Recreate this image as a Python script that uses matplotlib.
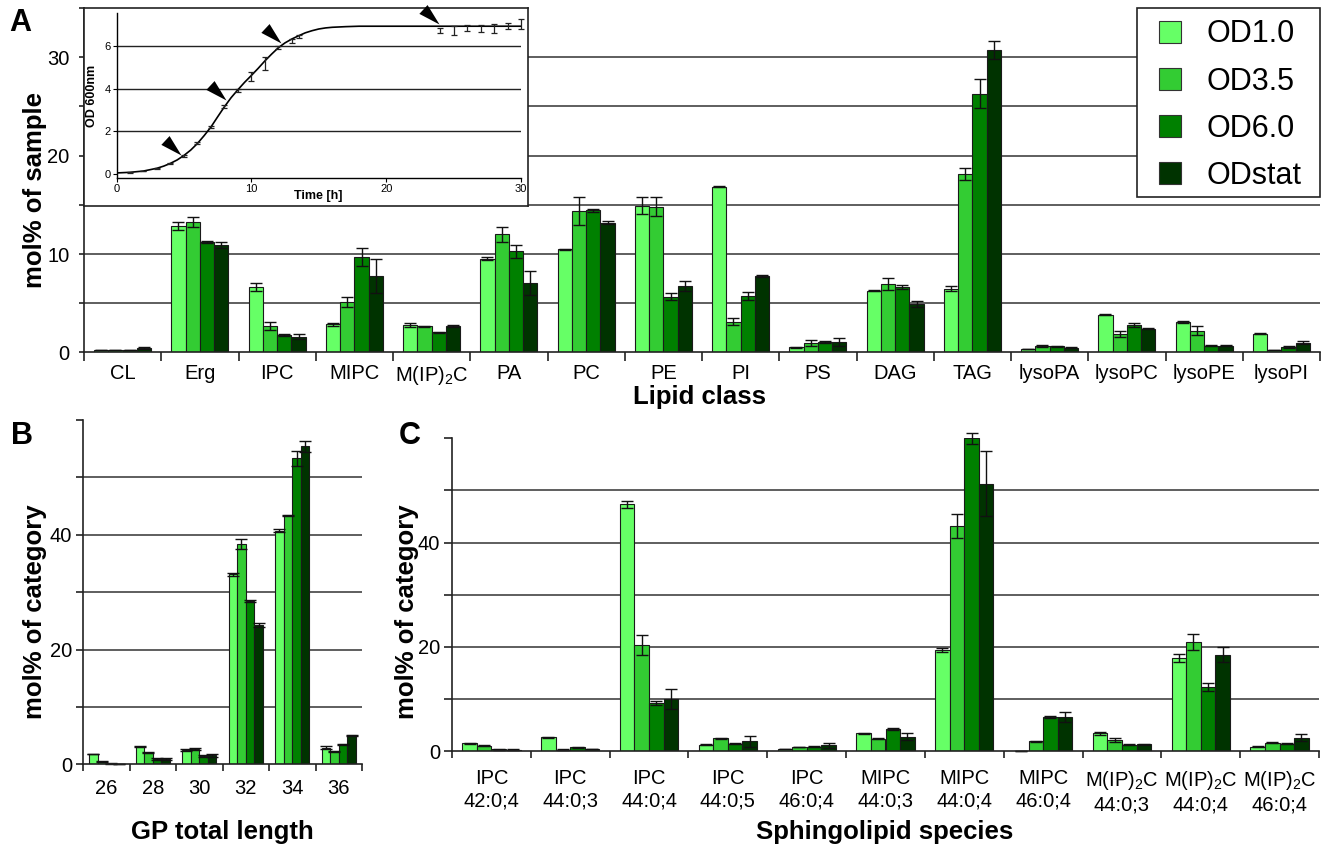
import numpy as np
import matplotlib
matplotlib.use("Agg")
import matplotlib.pyplot as plt
from matplotlib.patches import Patch, Rectangle
from matplotlib.path import Path

plt.rcParams['font.family'] = ['Liberation Sans', 'DejaVu Sans']
plt.rcParams['mathtext.default'] = 'regular'

# ---------------- data ----------------
series_names = ['OD1.0', 'OD3.5', 'OD6.0', 'ODstat']
series_colors = ['#66FF66', '#33CC33', '#008000', '#003300']

lipid_classes = ['CL', 'Erg', 'IPC', 'MIPC', 'M(IP)$_2$C', 'PA', 'PC', 'PE', 'PI',
                 'PS', 'DAG', 'TAG', 'lysoPA', 'lysoPC', 'lysoPE', 'lysoPI']
a_od10 = [0.27, 12.86, 6.67, 2.89, 2.76, 9.52, 10.48, 14.9, 16.84, 0.51, 6.29, 6.46, 0.34, 3.84, 3.1, 1.9]
a_od35 = [0.24, 13.3, 2.69, 5.17, 2.65, 12.0, 14.39, 14.83, 3.13, 0.95, 7.0, 18.1, 0.65, 1.84, 2.21, 0.24]
a_od60 = [0.27, 11.2, 1.73, 9.73, 2.04, 10.27, 14.46, 5.65, 5.75, 1.09, 6.7, 26.3, 0.61, 2.79, 0.68, 0.54]
a_odst = [0.5, 10.95, 1.6, 7.76, 2.72, 7.07, 13.16, 6.77, 7.82, 1.09, 4.9, 30.75, 0.48, 2.41, 0.68, 0.99]
a_err10 = [0.03, 0.4, 0.4, 0.15, 0.2, 0.15, 0.05, 0.85, 0.05, 0.05, 0.05, 0.25, 0.03, 0.05, 0.15, 0.07]
a_err35 = [0.03, 0.5, 0.4, 0.5, 0.05, 0.75, 1.45, 0.95, 0.35, 0.3, 0.6, 0.6, 0.1, 0.3, 0.45, 0.03]
a_err60 = [0.03, 0.1, 0.1, 0.9, 0.05, 0.7, 0.15, 0.35, 0.4, 0.1, 0.2, 1.5, 0.08, 0.25, 0.05, 0.1]
a_errst = [0.1, 0.3, 0.25, 1.7, 0.1, 1.2, 0.15, 0.5, 0.1, 0.4, 0.3, 0.9, 0.05, 0.03, 0.05, 0.15]

gp_lengths = ['26', '28', '30', '32', '34', '36']
b_od10 = [1.8, 3.08, 2.5, 33.1, 40.7, 2.9]
b_od35 = [0.47, 2.03, 2.67, 38.4, 43.4, 2.3]
b_od60 = [0.12, 0.93, 1.45, 28.5, 53.3, 3.5]
b_odst = [0.05, 0.93, 1.57, 24.3, 55.4, 5.06]
b_err10 = [0.05, 0.1, 0.1, 0.3, 0.3, 0.3]
b_err35 = [0.1, 0.1, 0.1, 0.9, 0.1, 0.1]
b_err60 = [0.05, 0.1, 0.1, 0.2, 1.3, 0.1]
b_errst = [0.02, 0.1, 0.3, 0.4, 0.9, 0.1]

sphingo_species = ['IPC\n42:0;4', 'IPC\n44:0;3', 'IPC\n44:0;4', 'IPC\n44:0;5', 'IPC\n46:0;4',
                   'MIPC\n44:0;3', 'MIPC\n44:0;4', 'MIPC\n46:0;4',
                   'M(IP)$_2$C\n44:0;3', 'M(IP)$_2$C\n44:0;4', 'M(IP)$_2$C\n46:0;4']
c_od10 = [1.48, 2.63, 47.3, 1.22, 0.38, 3.4, 19.4, 0.06, 3.4, 17.84, 0.83]
c_od35 = [1.03, 0.26, 20.35, 2.44, 0.77, 2.31, 43.1, 1.86, 2.05, 20.9, 1.54]
c_od60 = [0.32, 0.7, 9.18, 1.41, 0.83, 4.3, 60.0, 6.55, 1.16, 12.3, 1.35]
c_odst = [0.26, 0.39, 9.95, 1.86, 1.09, 2.76, 51.3, 6.48, 1.28, 18.5, 2.57]
c_err10 = [0.15, 0.1, 0.7, 0.05, 0.03, 0.1, 0.4, 0.02, 0.25, 0.75, 0.1]
c_err35 = [0.1, 0.05, 1.9, 0.1, 0.05, 0.1, 2.3, 0.1, 0.35, 1.5, 0.1]
c_err60 = [0.05, 0.1, 0.35, 0.1, 0.05, 0.2, 1.0, 0.2, 0.1, 0.7, 0.1]
c_errst = [0.03, 0.05, 1.9, 1.1, 0.5, 0.7, 6.2, 1.0, 0.05, 1.5, 0.7]

# growth curve inset
growth_t = [1, 2, 3, 4, 5, 6, 7, 8, 9, 10, 11, 12, 13, 13.5, 24, 25, 26, 27, 28, 29, 30]
growth_od = [0.08, 0.14, 0.27, 0.50, 0.86, 1.44, 2.21, 3.17, 3.92, 4.58, 5.17, 5.94, 6.24, 6.46,
             6.72, 6.73, 6.83, 6.83, 6.83, 6.95, 7.04]
growth_err = [0.02, 0.02, 0.02, 0.03, 0.05, 0.05, 0.05, 0.08, 0.08, 0.2, 0.3, 0.08, 0.1, 0.06,
              0.13, 0.2, 0.14, 0.16, 0.21, 0.13, 0.23]
fit_t = [0, 1, 2, 3, 3.5, 4, 4.5, 5, 5.5, 6, 6.5, 7, 7.5, 8, 8.5, 9, 9.5, 10, 10.5, 11, 11.5,
         12, 12.5, 13, 13.5, 14, 14.5, 15, 15.5, 16, 17, 18, 20, 25, 30]
fit_od = [0.05, 0.08, 0.14, 0.27, 0.37, 0.5, 0.66, 0.87, 1.12, 1.43, 1.8, 2.2, 2.68, 3.15, 3.58,
          3.95, 4.3, 4.62, 4.95, 5.3, 5.62, 5.92, 6.15, 6.33, 6.48, 6.62, 6.72, 6.8, 6.85, 6.88,
          6.91, 6.93, 6.93, 6.93, 6.93]
arrow_t = [4.75, 8.15, 12.2, 23.9]
arrow_od = [0.9, 3.45, 6.15, 7.05]

# ---------------- figure ----------------
W, H = 1322, 847
fig = plt.figure(figsize=(W / 100, H / 100), dpi=100)


def px_axes(l, t, r, b, **kw):
    return fig.add_axes([l / W, 1 - b / H, (r - l) / W, (b - t) / H], **kw)


def grouped(ax, cats, vals, errs, ymax, grid_step, label_step, ytick_len, ypad,
            xtick_len, xpad, fs=14.5):
    n = len(cats)
    x = np.arange(n)
    width = 0.185
    offs = (np.arange(4) - 1.5) * width
    for v, e, c, o in zip(vals, errs, series_colors, offs):
        ax.bar(x + o, v, width, color=c, edgecolor='#1a1a1a', linewidth=0.8, zorder=3)
        ax.errorbar(x + o, v, yerr=e, fmt='none', ecolor='#111111', elinewidth=1.0,
                    capsize=4, capthick=1.0, zorder=4, clip_on=False)
    for g in np.arange(grid_step, ymax - 1e-6, grid_step):
        ax.axhline(g, color='#333333', lw=1.1, zorder=1)
    ax.set_xlim(-0.5, n - 0.5)
    ax.set_ylim(0, ymax)
    for s in ['top', 'right']:
        ax.spines[s].set_visible(False)
    for s in ['left', 'bottom']:
        ax.spines[s].set_linewidth(1.2)
        ax.spines[s].set_color('#222222')
        ax.spines[s].set_zorder(5)
    ax.set_xticks(np.arange(n + 1) - 0.5)
    ax.set_xticklabels([])
    ax.set_xticks(x, minor=True)
    ax.set_xticklabels(cats, minor=True, fontsize=fs)
    ax.tick_params(axis='x', which='major', length=xtick_len, width=1.2, color='#222222', direction='out')
    ax.tick_params(axis='x', which='minor', length=0, pad=xpad)
    yt = np.arange(0, ymax + 1e-6, grid_step)
    ax.set_yticks(yt)
    labels = []
    for v in yt:
        show = abs(v / label_step - round(v / label_step)) < 1e-6 and v < ymax - 1e-6
        labels.append(('%d' % v) if show else '')
    ax.set_yticklabels(labels, fontsize=fs)
    ax.tick_params(axis='y', length=ytick_len, width=1.2, color='#222222', direction='out', pad=ypad)


# Panel A
axA = px_axes(84, 8, 1320, 352.5)
grouped(axA, lipid_classes, [a_od10, a_od35, a_od60, a_odst],
        [a_err10, a_err35, a_err60, a_errst], 35, 5, 10, 3.6, 7, 6.5, 8.5)

# Panel B
axB = px_axes(83, 420, 362, 764.3)
grouped(axB, gp_lengths, [b_od10, b_od35, b_od60, b_odst],
        [b_err10, b_err35, b_err60, b_errst], 60, 10, 20, 5, 3, 5, 10.5)

# Panel C
axC = px_axes(452, 438.3, 1319, 751)
grouped(axC, sphingo_species, [c_od10, c_od35, c_od60, c_odst],
        [c_err10, c_err35, c_err60, c_errst], 60, 10, 20, 5.5, 3, 5, 13)

# Legend (frame drawn separately)
frame = Rectangle((1137 / W, 1 - 197 / H), (1320 - 1137) / W, (197 - 8) / H,
                  transform=fig.transFigure, facecolor='white', edgecolor='#222222',
                  linewidth=1.2, zorder=4)
fig.add_artist(frame)
handles = [Patch(facecolor=c, edgecolor='#333333', linewidth=0.8) for c in series_colors]
leg = fig.legend(handles, series_names, loc='upper left',
                 bbox_to_anchor=(1159 / W, 1 - 19.5 / H), bbox_transform=fig.transFigure,
                 borderaxespad=0, borderpad=0, frameon=False, fontsize=22,
                 handlelength=0.72, handleheight=0.75, handletextpad=0.85,
                 labelspacing=0.56)
leg.set_zorder(5)

# Inset frame
axF = px_axes(84, 8, 528, 206, zorder=2)
axF.set_xticks([])
axF.set_yticks([])
axF.set_facecolor('white')
for s in axF.spines.values():
    s.set_linewidth(1.2)
    s.set_color('#222222')

axI = px_axes(116.5, 13, 521, 178.5, zorder=3)
axI.set_facecolor('none')
axI.set_xlim(0, 30)
axI.set_ylim(-0.21, 7.55)
axI.hlines([2, 4, 6], 0, 30, color='#222222', lw=1.0, zorder=1)
axI.plot(fit_t, fit_od, color='black', lw=1.2, zorder=3)
axI.errorbar(growth_t, growth_od, yerr=growth_err, fmt='none', ecolor='#222222',
             elinewidth=0.9, capsize=2, capthick=0.9, zorder=4, clip_on=False)
wedge = Path([(0, 0), (-11.9, 19.4), (-20.1, 10.6), (0, 0)],
             [Path.MOVETO, Path.LINETO, Path.LINETO, Path.CLOSEPOLY])
axI.plot(arrow_t, arrow_od, linestyle='none', marker=wedge, markersize=29,
         color='black', markeredgewidth=0, zorder=5, clip_on=False)
for s in ['top', 'right']:
    axI.spines[s].set_visible(False)
for s in ['left', 'bottom']:
    axI.spines[s].set_linewidth(1.0)
axI.set_xticks([0, 10, 20, 30])
axI.set_yticks([0, 2, 4, 6])
axI.tick_params(axis='both', labelsize=8, length=3, width=0.8, direction='out', pad=1)
axI.set_xlabel('Time [h]', fontsize=9, fontweight='bold')
axI.xaxis.set_label_coords(0.5, -0.07)
axI.set_ylabel('OD 600nm', fontsize=9, fontweight='bold')
axI.yaxis.set_label_coords(-0.046, 0.5)

# Axis titles & panel letters
fig.text(700 / W, 1 - 397 / H, 'Lipid class', fontsize=18.5, fontweight='bold', ha='center', va='center')
fig.text(222.5 / W, 1 - 832 / H, 'GP total length', fontsize=18.5, fontweight='bold', ha='center', va='center')
fig.text(885 / W, 1 - 832 / H, 'Sphingolipid species', fontsize=18.5, fontweight='bold', ha='center', va='center')
fig.text(35 / W, 1 - 190 / H, 'mol% of sample', fontsize=18.5, fontweight='bold', ha='center', va='center', rotation=90)
fig.text(35 / W, 1 - 612 / H, 'mol% of category', fontsize=18.5, fontweight='bold', ha='center', va='center', rotation=90)
fig.text(407 / W, 1 - 612 / H, 'mol% of category', fontsize=18.5, fontweight='bold', ha='center', va='center', rotation=90)
fig.text(20 / W, 1 - 23 / H, 'A', fontsize=22, fontweight='bold', ha='center', va='center')
fig.text(22 / W, 1 - 436 / H, 'B', fontsize=22, fontweight='bold', ha='center', va='center')
fig.text(410 / W, 1 - 436 / H, 'C', fontsize=22, fontweight='bold', ha='center', va='center')

fig.savefig('out.png', dpi=100)
